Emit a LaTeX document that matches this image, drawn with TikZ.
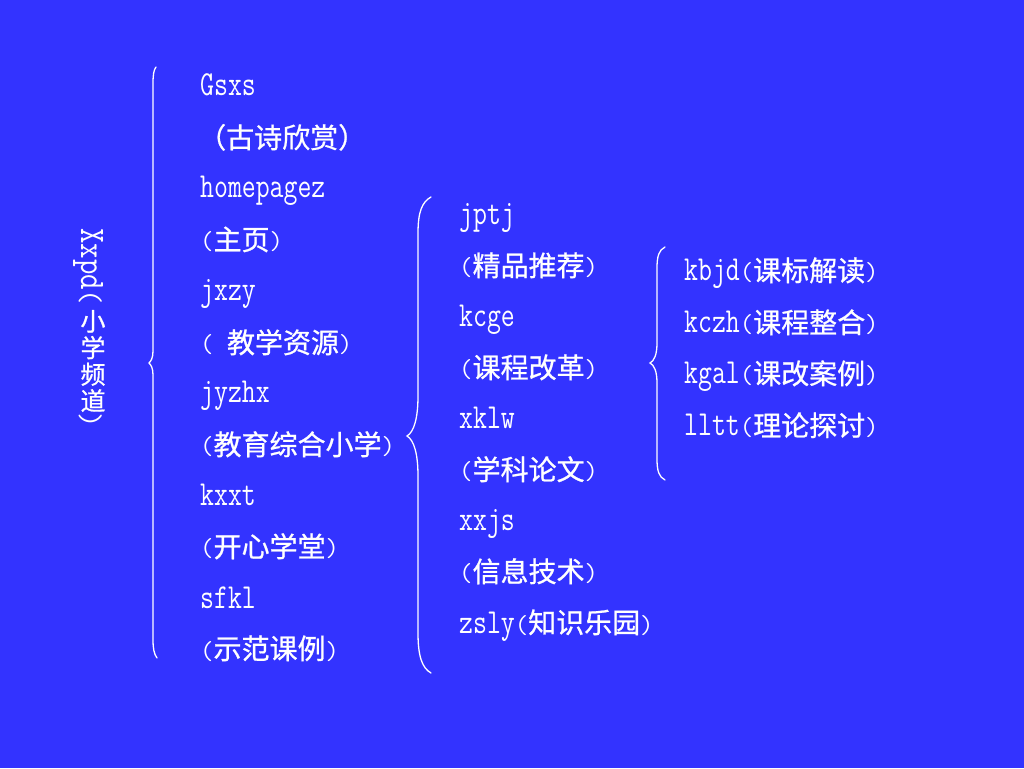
\documentclass[tikz,border=0pt]{standalone}
\usepackage{fontspec}
\usepackage{graphicx}
\newfontfamily\cjk[FakeBold=0.8]{Noto Sans CJK SC}
\definecolor{bgblue}{RGB}{51,51,255}
\newcommand{\lat}[1]{{\ttfamily\fontsize{27}{27}\selectfont\scalebox{1}[1.3]{#1}}}
\newcommand{\prn}[1]{{\ttfamily\fontsize{26}{26}\selectfont #1}}
\newcommand{\zh}[1]{{\cjk\fontsize{28}{28}\selectfont #1}}
\begin{document}
\begin{tikzpicture}[x=1pt,y=1pt,
  lbl/.style={anchor=base west,inner sep=0pt,text=white},
  brace/.style={draw=white,line width=1.3pt,line cap=round}]
\fill[bgblue] (0,0) rectangle (1024,768);
\useasboundingbox (0,0) rectangle (1024,768);
% vertical title
\node[lbl,rotate=-90] (v1) at (81,540) {{\ttfamily\fontsize{30}{30}\selectfont\scalebox{1}[1.2]{Xxpd}(}};
\node[inner sep=0pt,text=white,align=center,font=\cjk\fontsize{25}{26.5}\selectfont] (v2) at (93,407) {小\\学\\频\\道};
\node[lbl,rotate=-90] (v3) at (81,356) {{\ttfamily\fontsize{30}{30}\selectfont )}};
% column 1
\node[lbl] (a1) at (200,672) {\lat{Gsxs}};
\node[lbl] (a2) at (198,620) {\zh{（古诗欣赏）}};
\node[lbl] (a3) at (200,570) {\lat{homepagez}};
\node[lbl] (a4) at (200,518) {\prn{(}\zh{主页}\prn{)}};
\node[lbl] (a5) at (200,467) {\lat{jxzy}};
\node[lbl] (a6) at (200,415) {\prn{( }\zh{教学资源}\prn{)}};
\node[lbl] (a7) at (200,365) {\lat{jyzhx}};
\node[lbl] (a8) at (200,313) {\prn{(}\zh{教育综合小学}\prn{)}};
\node[lbl] (a9) at (200,262) {\lat{kxxt}};
\node[lbl] (a10) at (200,211) {\prn{(}\zh{开心学堂}\prn{)}};
\node[lbl] (a11) at (200,160) {\lat{sfkl}};
\node[lbl] (a12) at (200,109) {\prn{(}\zh{示范课例}\prn{)}};
% column 2
\node[lbl] (b1) at (459,543) {\lat{jptj}};
\node[lbl] (b2) at (459,492) {\prn{(}\zh{精品推荐}\prn{)}};
\node[lbl] (b3) at (459,441) {\lat{kcge}};
\node[lbl] (b4) at (459,390) {\prn{(}\zh{课程改革}\prn{)}};
\node[lbl] (b5) at (459,339) {\lat{xklw}};
\node[lbl] (b6) at (459,288) {\prn{(}\zh{学科论文}\prn{)}};
\node[lbl] (b7) at (459,237) {\lat{xxjs}};
\node[lbl] (b8) at (459,186) {\prn{(}\zh{信息技术}\prn{)}};
\node[lbl] (b9) at (459,135) {\lat{zsly}\prn{(}\zh{知识乐园}\prn{)}};
% column 3
\node[lbl] (c1) at (684,487) {\lat{kbjd}\prn{(}\zh{课标解读}\prn{)}};
\node[lbl] (c2) at (684,435) {\lat{kczh}\prn{(}\zh{课程整合}\prn{)}};
\node[lbl] (c3) at (684,384) {\lat{kgal}\prn{(}\zh{课改案例}\prn{)}};
\node[lbl] (c4) at (684,332) {\lat{lltt}\prn{(}\zh{理论探讨}\prn{)}};
% braces
\draw[brace] (156,701) .. controls (153.5,698) and (153,692) .. (153,684) -- (153,417)
  .. controls (153,410) and (151,407) .. (149,405) .. controls (151,403) and (153,400) .. (153,393)
  -- (153,128) .. controls (153,120) and (154,114) .. (157,110);
\draw[brace] (431,571) .. controls (422,566) and (418,556) .. (418,535) -- (418,372)
  .. controls (418,350) and (414,336) .. (407,332) .. controls (414,328) and (418,314) .. (418,292)
  -- (418,135) .. controls (418,112) and (422,100) .. (431,95);
\draw[brace] (665,521) .. controls (659,518) and (657,512) .. (657,500) -- (657,425)
  .. controls (657,413) and (654,407) .. (650,405) .. controls (654,403) and (657,397) .. (657,385)
  -- (657,309) .. controls (657,297) and (659,291) .. (665,288);
\end{tikzpicture}
\end{document}
